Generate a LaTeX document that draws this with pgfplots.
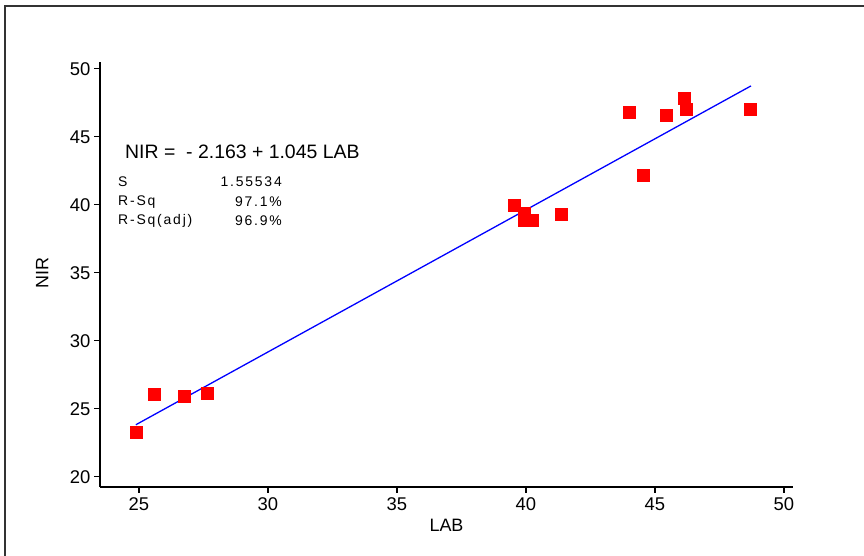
\documentclass[border=0pt]{standalone}
\usepackage{fontspec}
\setmainfont{Liberation Sans}
\usepackage{pgfplots}
\pgfplotsset{compat=1.18}
\begin{document}
\begin{tikzpicture}[x=1bp,y=1bp]
\useasboundingbox (0,0) rectangle (864,556);
% outer frame (left and top edges)
\draw[line width=2bp, black!80] (5,-5) -- (5,549.5) -- (875,549.5);
\begin{axis}[
  at={(100bp,69bp)}, anchor=south west, scale only axis,
  width=693bp, height=425bp,
  xmin=23.49, xmax=50.35, ymin=19.26, ymax=50.51,
  axis x line*=bottom, axis y line*=left,
  axis line style={black, line width=1.3bp},
  xtick={25,30,...,50}, ytick={20,25,...,50},
  tick align=outside, major tick length=6bp,
  tick style={black, line width=1.1bp},
  /pgf/number format/assume math mode=true,
  tick label style={font=\fontsize{18.5}{18.5}\selectfont},
  xticklabel style={yshift=-1bp},
  label style={font=\fontsize{18}{18}\selectfont},
  xlabel={LAB}, ylabel={NIR},
  xlabel style={at={(axis description cs:0.5,-0.0894)}, anchor=center},
  ylabel style={at={(axis description cs:-0.0835,0.5035)}, anchor=center},
  clip=false,
]
% fitted regression line
\addplot[blue, line width=1.3bp] coordinates {(24.88,23.837) (48.72,48.750)};
% observations
\addplot[only marks, mark=square*, mark size=6bp, red, mark options={draw=red, fill=red}] coordinates {
  (24.88,23.31) (25.58,26.10) (26.74,25.96) (27.64,26.18)
  (39.53,40.00) (39.92,39.41) (39.92,38.90) (40.23,38.90) (41.36,39.34)
  (43.99,46.84) (44.53,42.21) (45.43,46.62) (46.12,47.87) (46.20,47.06)
  (48.68,47.06)
};
\end{axis}
% regression summary
\node[anchor=west, inner sep=0, font=\fontsize{19.5}{19.5}\selectfont] at (125,404) {NIR =\ \ - 2.163 + 1.045 LAB};
\begin{scope}[every node/.style={inner sep=0, font=\fontsize{14}{14}\selectfont\addfontfeature{LetterSpace=13}}]
\node[anchor=west] at (118,374) {S};
\node[anchor=west] at (118,354) {R-Sq};
\node[anchor=west] at (118,335) {R-Sq(adj)};
\node[anchor=east] at (282,374) {1.55534};
\node[anchor=east] at (282,354) {97.1\%};
\node[anchor=east] at (282,335) {96.9\%};
\end{scope}
\end{tikzpicture}
\end{document}
